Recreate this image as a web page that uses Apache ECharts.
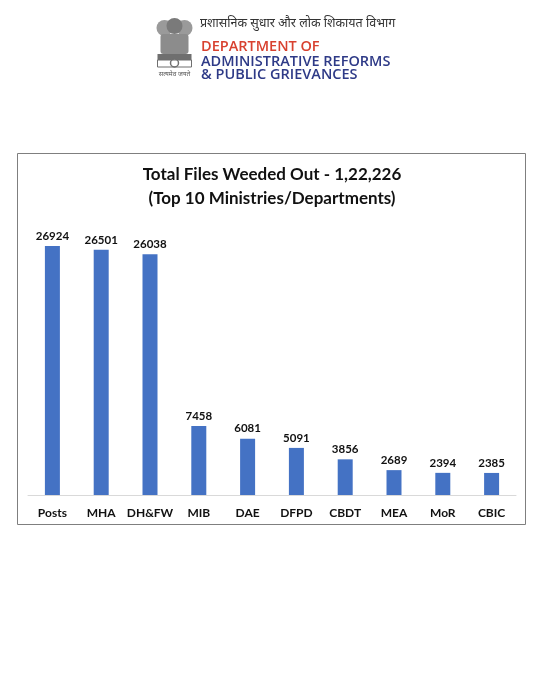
<!DOCTYPE html>
<html>
<head>
<meta charset="utf-8">
<script src="https://cdn.jsdelivr.net/npm/echarts@6/dist/echarts.min.js"></script>
<style>
  html, body { margin: 0; padding: 0; background: #fff; }
  #main { width: 544px; height: 680px; }
</style>
</head>
<body>
<div id="main"></div>
<script>
const categories = ["Posts", "MHA", "DH&FW", "MIB", "DAE", "DFPD", "CBDT", "MEA", "MoR", "CBIC"]
const filesWeeded = [26924, 26501, 26038, 7458, 6081, 5091, 3856, 2689, 2394, 2385]
const titleLines = ["Total Files Weeded Out - 1,22,226", "(Top 10 Ministries/Departments)"]

const chart = echarts.init(document.getElementById("main"))
const font = "Lato, 'Open Sans', sans-serif"
const logoFont = "'Open Sans', 'Noto Sans', sans-serif"

const option = {
    animation: false,
    backgroundColor: "#fff",
    title: {
        text: titleLines.join("\n"),
        left: "center",
        top: 158,
        textStyle: {
            fontFamily: font,
            fontSize: 17,
            fontWeight: "bold",
            color: "#111",
            lineHeight: 24
        }
    },
    grid: { left: 28, right: 28, top: 217.5, bottom: 185 },
    xAxis: {
        type: "category",
        data: categories,
        axisLine: { lineStyle: { color: "#d9d9d9", width: 1 } },
        axisTick: { show: false },
        axisLabel: {
            interval: 0,
            margin: 12,
            fontFamily: font,
            fontSize: 12,
            fontWeight: "bold",
            color: "#111"
        }
    },
    yAxis: {
        type: "value",
        min: 0,
        max: 30000,
        show: false,
        splitLine: { show: false }
    },
    series: [{
        type: "bar",
        data: filesWeeded,
        barWidth: 15,
        itemStyle: { color: "#4472C4" },
        label: {
            show: true,
            position: "top",
            distance: 4,
            fontFamily: font,
            fontSize: 11.5,
            fontWeight: "bold",
            color: "#111"
        }
    }],
    graphic: [
        // chart frame
        {
            type: "rect",
            shape: { x: 17.5, y: 153.5, width: 508, height: 371 },
            style: { fill: "none", stroke: "#7f7f7f", lineWidth: 1 }
        },
        // simplified emblem
        {
            type: "group",
            left: 155,
            top: 18,
            children: [
                { type: "circle", shape: { cx: 10, cy: 10, r: 8 }, style: { fill: "#9a9a9a" } },
                { type: "circle", shape: { cx: 30, cy: 10, r: 8 }, style: { fill: "#9a9a9a" } },
                { type: "circle", shape: { cx: 20, cy: 8, r: 8 }, style: { fill: "#7a7a7a" } },
                { type: "rect", shape: { x: 6, y: 16, width: 28, height: 20, r: 3 }, style: { fill: "#8c8c8c" } },
                { type: "rect", shape: { x: 3, y: 36, width: 34, height: 6 }, style: { fill: "#6f6f6f" } },
                { type: "circle", shape: { cx: 20, cy: 45, r: 4 }, style: { fill: "#fff", stroke: "#6f6f6f", lineWidth: 1.5 } },
                { type: "rect", shape: { x: 3, y: 42, width: 34, height: 7 }, style: { fill: "none", stroke: "#6f6f6f", lineWidth: 1 } },
                {
                    type: "text",
                    style: {
                        text: "सत्यमेव जयते", x: 20, y: 56, align: "center", verticalAlign: "middle",
                        fontSize: 6.5, fill: "#555", fontFamily: logoFont
                    }
                }
            ]
        },
        {
            type: "text",
            left: 200,
            top: 17,
            style: { text: "प्रशासनिक सुधार और लोक शिकायत विभाग", fontSize: 12.5, fill: "#333", fontFamily: logoFont }
        },
        {
            type: "text",
            left: 201,
            top: 39,
            style: { text: "DEPARTMENT OF", fontSize: 14.5, fontWeight: 600, fill: "#d8412f", fontFamily: logoFont }
        },
        {
            type: "text",
            left: 201,
            top: 54,
            style: { text: "ADMINISTRATIVE REFORMS", fontSize: 14.5, fontWeight: 600, fill: "#2e3a87", fontFamily: logoFont }
        },
        {
            type: "text",
            left: 201,
            top: 67,
            style: { text: "& PUBLIC GRIEVANCES", fontSize: 14.5, fontWeight: 600, fill: "#2e3a87", fontFamily: logoFont }
        }
    ]
}

chart.setOption(option)
</script>
</body>
</html>
